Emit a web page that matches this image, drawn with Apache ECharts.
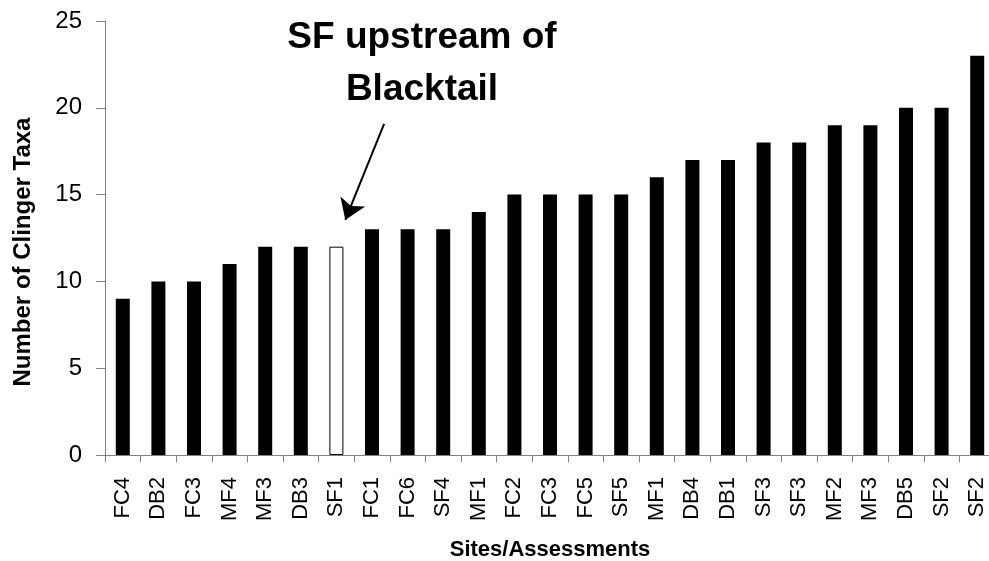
<!DOCTYPE html>
<html>
<head>
<meta charset="utf-8">
<script src="https://cdn.jsdelivr.net/npm/echarts@6/dist/echarts.min.js"></script>
<style>
  html, body { margin: 0; padding: 0; background: #fff; }
  #chart { width: 989px; height: 561px; }
</style>
</head>
<body>
<div id="chart"></div>
<script>
// sites / assessments, sorted by clinger taxa count
const categories = ['FC4', 'DB2', 'FC3', 'MF4', 'MF3', 'DB3', 'SF1', 'FC1', 'FC6', 'SF4', 'MF1', 'FC2', 'FC3',
  'FC5', 'SF5', 'MF1', 'DB4', 'DB1', 'SF3', 'SF3', 'MF2', 'MF3', 'DB5', 'SF2', 'SF2'];
const clingerTaxa = [9, 10, 10, 11, 12, 12, 12, 13, 13, 13, 14, 15, 15, 15, 15, 16, 17, 17, 18, 18, 19, 19, 20, 20, 23];
const highlightIndex = 6; // SF1 - upstream of Blacktail
const yTicks = [0, 5, 10, 15, 20, 25];

// annotation arrow, in a hidden value axis spanning the categories (0..25)
const arrowFrom = [7.84, 19.07];
const arrowTo = [6.75, 13.54];

const font = 'Liberation Sans, Arial, sans-serif';
const axisGrey = '#808080';

const chart = echarts.init(document.getElementById('chart'));

const barData = clingerTaxa.map((v, i) => i === highlightIndex
  ? { value: v, itemStyle: { color: '#fff', borderColor: '#000', borderWidth: 1 } }
  : v);

const option = {
  animation: false,
  grid: { left: 105, right: -6, top: 21, bottom: 106, containLabel: false, outerBoundsMode: 'none' },
  xAxis: [
    {
      type: 'category',
      data: categories,
      name: 'Sites/Assessments',
      nameLocation: 'middle',
      nameGap: 84,
      nameTextStyle: { fontFamily: font, fontWeight: 'bold', fontSize: 22, color: '#000', verticalAlign: 'top' },
      axisLine: { lineStyle: { color: axisGrey, width: 1 } },
      axisTick: { show: true, alignWithLabel: false, length: 7, lineStyle: { color: axisGrey } },
      axisLabel: { rotate: 90, margin: 22, fontFamily: font, fontSize: 22, color: '#000', interval: 0 }
    },
    { type: 'value', min: 0, max: 25, show: false }
  ],
  yAxis: {
    type: 'value',
    min: yTicks[0],
    max: yTicks[yTicks.length - 1],
    interval: 5,
    name: 'Number of Clinger Taxa',
    nameLocation: 'middle',
    nameGap: 70,
    nameTextStyle: { fontFamily: font, fontWeight: 'bold', fontSize: 24, color: '#000', padding: [0, 28, 0, 0] },
    axisLine: { show: true, lineStyle: { color: axisGrey, width: 1 } },
    axisTick: { show: true, length: 9, inside: false, lineStyle: { color: axisGrey } },
    axisLabel: { margin: 23, fontFamily: font, fontSize: 24, color: '#000' },
    splitLine: { show: false }
  },
  series: [
    {
      type: 'bar',
      data: barData,
      barWidth: 14,
      itemStyle: { color: '#000' }
    },
    {
      type: 'scatter',
      xAxisIndex: 1,
      data: [],
      silent: true,
      markLine: {
        silent: true,
        symbol: ['none', 'arrow'],
        symbolSize: 20,
        label: { show: false },
        lineStyle: { color: '#000', width: 2, type: 'solid' },
        data: [[{ coord: arrowFrom }, { coord: arrowTo }]]
      }
    }
  ],
  graphic: [
    {
      type: 'text',
      x: 422,
      y: 12,
      style: {
        text: 'SF upstream of\nBlacktail',
        align: 'center',
        fontFamily: font,
        fontWeight: 'bold',
        fontSize: 37,
        lineHeight: 52,
        fill: '#000'
      }
    }
  ]
};

chart.setOption(option);
</script>
</body>
</html>
